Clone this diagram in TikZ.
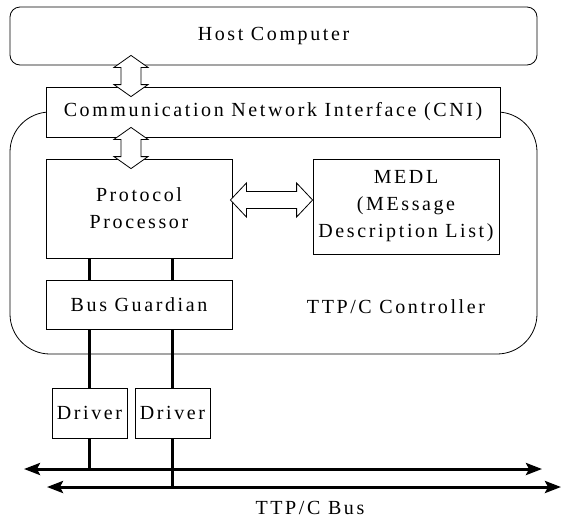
\documentclass[tikz,border=0pt]{standalone}
\usepackage{fontspec}
\setmainfont{Liberation Serif}[LetterSpace=13]
\usetikzlibrary{arrows.meta,calc}
\newcommand\vfat[2]{%
  \draw[fat] let \p1=(#1), \p2=(#2) in
    (\x1,\y1+10pt) -- (\x1+17pt,\y1-2pt) -- (\x1+10pt,\y1-2pt) -- (\x1+10pt,\y2+2pt) -- (\x1+17pt,\y2+2pt)
    -- (\x1,\y2-10pt) -- (\x1-17pt,\y2+2pt) -- (\x1-10pt,\y2+2pt) -- (\x1-10pt,\y1-2pt) -- (\x1-17pt,\y1-2pt) -- cycle;}
\newcommand\hfat[2]{%
  \draw[fat] let \p1=(#1), \p2=(#2) in
    (\x1,\y1) -- (\x1+16pt,\y1+17pt) -- (\x1+16pt,\y1+8.5pt) -- (\x2-16pt,\y1+8.5pt) -- (\x2-16pt,\y1+17pt)
    -- (\x2,\y1) -- (\x2-16pt,\y1-17pt) -- (\x2-16pt,\y1-8.5pt) -- (\x1+16pt,\y1-8.5pt) -- (\x1+16pt,\y1-17pt) -- cycle;}
\tikzset{
  box/.style={draw, line width=0.8pt, fill=white, inner sep=0pt, align=center},
  fat/.style={draw, line width=0.8pt, fill=white, line join=miter},
  wire/.style={line width=3pt},
  bus/.style={line width=3pt, {Stealth[length=16pt,width=12pt,inset=3pt]}-{Stealth[length=16pt,width=12pt,inset=3pt]}},
  lbl/.style={inner sep=0pt}
}
\begin{document}
\begin{tikzpicture}[x=1pt, y=-1pt, font=\fontsize{20}{27}\selectfont]
\useasboundingbox (0,0) rectangle (562,523);
% controller outline
\draw[line width=0.8pt, rounded corners=40pt] (10,112) rectangle (537,354);
% boxes
\node[box, rounded corners=10pt, minimum width=527pt, minimum height=58pt] (host) at (273.5,36) {Host Computer};
\node[box, minimum width=454pt, minimum height=50pt] (cni) at (273,112) {Communication Network Interface (CNI)};
\node[box, minimum width=186pt, minimum height=99pt] (pp) at (139,208.5) {Protocol\\Processor};
\node[box, minimum width=186pt, minimum height=95pt] (medl) at (406,206.5) {MEDL\\(MEssage\\Description List)};
\node[box, minimum width=186pt, minimum height=49pt] (bg) at (139,304.5) {Bus Guardian};
\node[box, minimum width=75pt, minimum height=50pt] (d1) at (89.5,413) {Driver};
\node[box, minimum width=75pt, minimum height=50pt] (d2) at (172.5,413) {Driver};
\node[lbl] (ctl) at (396,307) {TTP/C Controller};
\node[lbl] (buslbl) at (310,508) {TTP/C Bus};
% fat arrows
\coordinate (ax) at (131,0);
\coordinate (ay) at (0,200);
\vfat{host.south -| ax}{cni.north -| ax}
\vfat{cni.south -| ax}{pp.north -| ax}
\hfat{$(pp.east |- ay)+(-2,0)$}{medl.west |- ay}
% bus lines
\coordinate (b1l) at (24,469);
\coordinate (b1r) at (542,469);
\coordinate (b2l) at (47,487);
\coordinate (b2r) at (561,487);
\draw[bus] (b1l) -- (b1r);
\draw[bus] (b2l) -- (b2r);
% wires
\draw[wire] (pp.south -| d1) -- (bg.north -| d1);
\draw[wire] (pp.south -| d2) -- (bg.north -| d2);
\draw[wire] (bg.south -| d1) -- (d1.north);
\draw[wire] (bg.south -| d2) -- (d2.north);
\draw[wire] (d1.south) -- (d1.south |- b1l);
\draw[wire] (d2.south) -- (d2.south |- b2l);
\end{tikzpicture}
\end{document}
